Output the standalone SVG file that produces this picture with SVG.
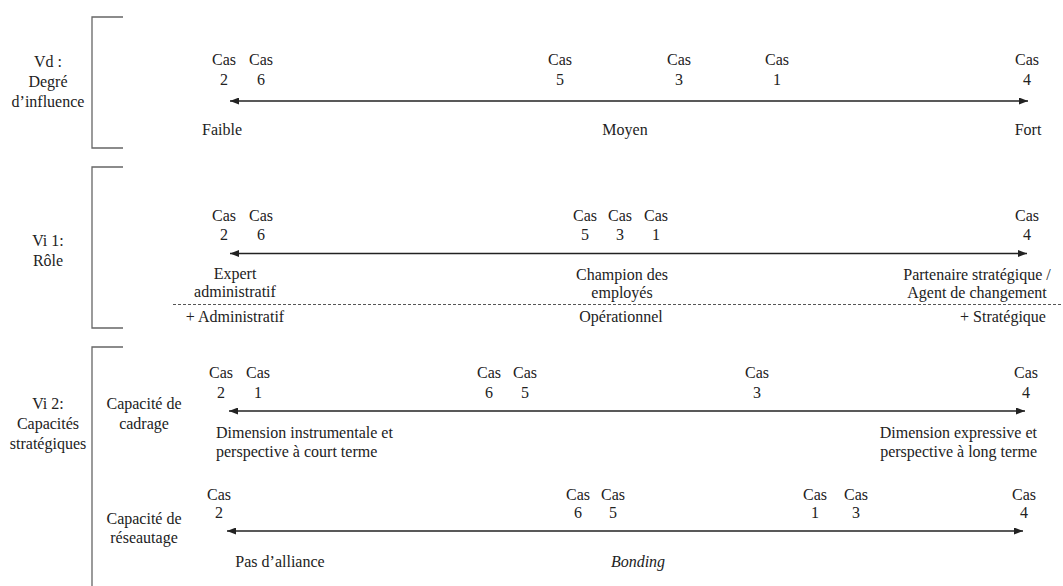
<svg xmlns="http://www.w3.org/2000/svg" width="1063" height="586" viewBox="0 0 1063 586">
<style>
.t{font-family:"Liberation Serif","Times New Roman",serif;font-size:16px;fill:#222;text-anchor:middle}
.s{text-anchor:start}
.e{text-anchor:end}
.i{font-style:italic}
.br{fill:none;stroke:#666;stroke-width:1.3}
.ax{stroke:#222;stroke-width:1.4;fill:none;marker-start:url(#ah);marker-end:url(#ah)}
.dash{stroke:#555;stroke-width:1;stroke-dasharray:3 2}
</style>
<defs>
<marker id="ah" viewBox="0 0 9 7" refX="9" refY="3.5" markerWidth="9" markerHeight="7" markerUnits="userSpaceOnUse" orient="auto-start-reverse">
<path d="M0,0 L9,3.5 L0,7 z" fill="#222"/>
</marker>
</defs>
<rect width="1063" height="586" fill="#fff"/>

<g id="brackets">
<path class="br" d="M123,17 H92 V148 H123"/>
<path class="br" d="M123,167 H92 V328 H123"/>
<path class="br" d="M123,347 H92 V586"/>
</g>

<g id="connectors">
<line class="ax" x1="230" y1="101" x2="1028" y2="101"/>
<line class="ax" x1="230" y1="253.5" x2="1027" y2="253.5"/>
<line class="ax" x1="229" y1="411" x2="1025" y2="411"/>
<line class="ax" x1="227" y1="531" x2="1023" y2="531"/>
<line class="dash" x1="173" y1="304.5" x2="1063" y2="304.5"/>
</g>

<g id="label-vd">
<text class="t" x="48" y="67">Vd :</text>
<text class="t" x="48" y="87">Degré</text>
<text class="t" x="48" y="107">d’influence</text>
</g>
<g id="label-vi1">
<text class="t" x="48" y="246">Vi 1:</text>
<text class="t" x="48" y="266">Rôle</text>
</g>
<g id="label-vi2">
<text class="t" x="48" y="409">Vi 2:</text>
<text class="t" x="48" y="429">Capacités</text>
<text class="t" x="48" y="449">stratégiques</text>
</g>
<g id="label-cadrage">
<text class="t" x="144" y="409">Capacité de</text>
<text class="t" x="144" y="429">cadrage</text>
</g>
<g id="label-reseautage">
<text class="t" x="144" y="524">Capacité de</text>
<text class="t" x="144" y="543">réseautage</text>
</g>

<g id="row-vd">
<text class="t" x="224" y="65">Cas</text><text class="t" x="224" y="85">2</text>
<text class="t" x="261" y="65">Cas</text><text class="t" x="261" y="85">6</text>
<text class="t" x="560" y="65">Cas</text><text class="t" x="560" y="85">5</text>
<text class="t" x="679" y="65">Cas</text><text class="t" x="679" y="85">3</text>
<text class="t" x="777" y="65">Cas</text><text class="t" x="777" y="85">1</text>
<text class="t" x="1027" y="65">Cas</text><text class="t" x="1027" y="85">4</text>
<text class="t" x="222" y="135">Faible</text>
<text class="t" x="625" y="135">Moyen</text>
<text class="t" x="1028" y="135">Fort</text>
</g>

<g id="row-vi1">
<text class="t" x="224" y="221">Cas</text><text class="t" x="224" y="240">2</text>
<text class="t" x="261" y="221">Cas</text><text class="t" x="261" y="240">6</text>
<text class="t" x="585" y="221">Cas</text><text class="t" x="585" y="240">5</text>
<text class="t" x="620" y="221">Cas</text><text class="t" x="620" y="240">3</text>
<text class="t" x="656" y="221">Cas</text><text class="t" x="656" y="240">1</text>
<text class="t" x="1027" y="221">Cas</text><text class="t" x="1027" y="240">4</text>
<text class="t" x="235" y="279">Expert</text>
<text class="t" x="235" y="297">administratif</text>
<text class="t" x="622" y="280">Champion des</text>
<text class="t" x="622" y="298">employés</text>
<text class="t" x="977" y="280">Partenaire stratégique /</text>
<text class="t" x="977" y="298">Agent de changement</text>
<text class="t" x="235" y="322">+ Administratif</text>
<text class="t" x="621" y="322">Opérationnel</text>
<text class="t" x="1003" y="322">+ Stratégique</text>
</g>

<g id="row-cadrage">
<text class="t" x="221" y="378">Cas</text><text class="t" x="221" y="398">2</text>
<text class="t" x="258" y="378">Cas</text><text class="t" x="258" y="398">1</text>
<text class="t" x="489" y="378">Cas</text><text class="t" x="489" y="398">6</text>
<text class="t" x="525" y="378">Cas</text><text class="t" x="525" y="398">5</text>
<text class="t" x="757" y="378">Cas</text><text class="t" x="757" y="398">3</text>
<text class="t" x="1026" y="378">Cas</text><text class="t" x="1026" y="398">4</text>
<text class="t s" x="216" y="438">Dimension instrumentale et</text>
<text class="t s" x="216" y="457">perspective à court terme</text>
<text class="t e" x="1037" y="438">Dimension expressive et</text>
<text class="t e" x="1037" y="457">perspective à long terme</text>
</g>

<g id="row-reseautage">
<text class="t" x="219" y="500">Cas</text><text class="t" x="219" y="518">2</text>
<text class="t" x="578" y="500">Cas</text><text class="t" x="578" y="518">6</text>
<text class="t" x="613" y="500">Cas</text><text class="t" x="613" y="518">5</text>
<text class="t" x="815" y="500">Cas</text><text class="t" x="815" y="518">1</text>
<text class="t" x="856" y="500">Cas</text><text class="t" x="856" y="518">3</text>
<text class="t" x="1024" y="500">Cas</text><text class="t" x="1024" y="518">4</text>
<text class="t" x="280" y="567">Pas d’alliance</text>
<text class="t i" x="638" y="567">Bonding</text>
</g>
</svg>
